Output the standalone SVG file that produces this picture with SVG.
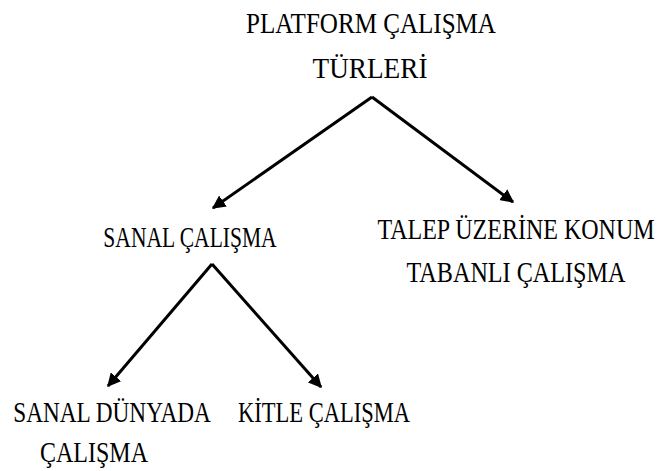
<svg xmlns="http://www.w3.org/2000/svg" width="661" height="471" viewBox="0 0 661 471">
<style>
text{font-family:'Liberation Serif','Times New Roman',serif;font-size:30px;fill:#000;text-anchor:middle}
.c{stroke:#000;stroke-width:3;fill:none;marker-end:url(#ah)}
</style>
<defs>
<marker id="ah" viewBox="0 0 10 10" refX="9" refY="5" markerWidth="4.5" markerHeight="4.5" orient="auto" markerUnits="strokeWidth">
<path d="M0,0 L10,5 L0,10 z" fill="#000"/>
</marker>
</defs>
<rect width="661" height="471" fill="#fff"/>
<g id="root">
<text transform="translate(371,33) scale(0.836,1)">PLATFORM ÇALIŞMA</text>
<text transform="translate(370,78) scale(0.908,1)">TÜRLERİ</text>
</g>
<g id="sanal">
<text transform="translate(190,247) scale(0.718,1)">SANAL ÇALIŞMA</text>
</g>
<g id="talep">
<text transform="translate(516,239) scale(0.8,1)">TALEP ÜZERİNE KONUM</text>
<text transform="translate(516,282) scale(0.806,1)">TABANLI ÇALIŞMA</text>
</g>
<g id="dunya">
<text transform="translate(112,422) scale(0.776,1)">SANAL DÜNYADA</text>
<text transform="translate(94,462) scale(0.8,1)">ÇALIŞMA</text>
</g>
<g id="kitle">
<text transform="translate(324,422) scale(0.751,1)">KİTLE ÇALIŞMA</text>
</g>
<g id="connectors">
<polyline class="c" points="372,97 213,208"/>
<polyline class="c" points="372,97 513,202"/>
<polyline class="c" points="212,264 108,386"/>
<polyline class="c" points="212,264 321,387"/>
</g>
</svg>
